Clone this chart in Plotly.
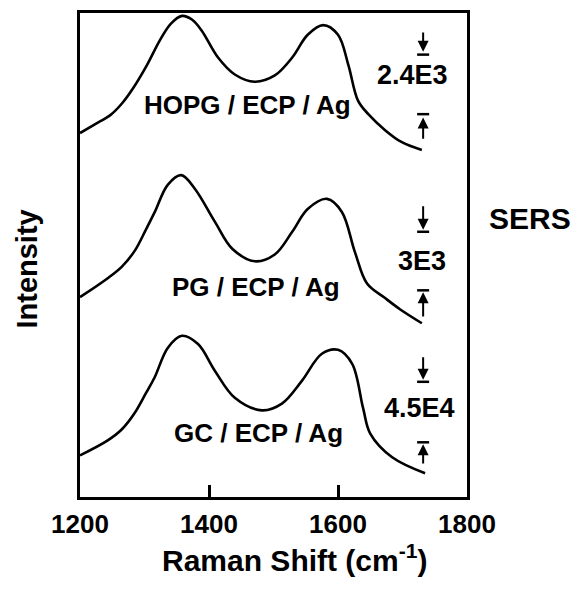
import plotly.graph_objects as go

# ---------------- data ----------------
hopg_shift = [1200, 1223, 1247, 1265, 1282, 1304, 1324, 1341, 1358, 1374, 1389,
              1414, 1440, 1471, 1502, 1529, 1553, 1577, 1600, 1616, 1631, 1647, 1673,
              1699, 1730]
hopg_int = [75.2, 77.0, 78.9, 81.3, 84.4, 89.3, 94.4, 97.8, 99.4, 98.6, 96.3,
            90.8, 87.3, 85.8, 87.1, 90.8, 95.5, 97.5, 95.5, 89.3, 81.9, 79.1, 75.8,
            73.3, 71.7]

pg_shift = [1200, 1243, 1265, 1285, 1302, 1316, 1336, 1357, 1378, 1409, 1436, 1471,
            1502, 1529, 1553, 1583, 1606, 1626, 1645, 1673, 1696, 1730]
pg_int = [41.3, 45.2, 47.6, 50.9, 55.2, 58.9, 64.5, 66.5, 63.7, 56.9, 51.3, 48.7,
          50.1, 54.8, 59.5, 61.6, 58.9, 50.7, 44.1, 41.1, 38.8, 35.9]

gc_shift = [1200, 1243, 1265, 1285, 1302, 1316, 1336, 1358, 1383, 1409, 1440, 1482,
            1513, 1544, 1575, 1600, 1622, 1639, 1650, 1684, 1735]
gc_int = [8.6, 11.7, 14.0, 17.4, 21.4, 24.8, 30.8, 33.3, 31.6, 26.1, 20.5, 17.9,
          19.3, 24.0, 29.6, 30.4, 27.5, 18.3, 13.1, 8.2, 4.9]

sample_labels = ["HOPG / ECP / Ag", "PG / ECP / Ag", "GC / ECP / Ag"]
scale_labels = ["2.4E3", "3E3", "4.5E4"]
x_ticks = [1200, 1400, 1600, 1800]

# ---------------- placement of annotations ----------------
label_pos = [(1459, 80.9), (1473, 43.3), (1476, 13.3)]
scale_pos = [(1716, 87.1), (1730, 48.7), (1727, 18.3)]
arrow_x = 1732
# (down tail, down tip, down bar, up bar, up tip, up tail)
arrow_y = [(96.3, 92.0, 91.4, 79.1, 78.4, 73.7),
           (60.4, 55.2, 54.8, 42.7, 42.3, 37.0),
           (29.2, 24.2, 23.8, 11.3, 10.9, 6.6)]

FONT = "Liberation Sans, Arial, Helvetica, sans-serif"


def fnt(size):
    return dict(size=size, color="black", family=FONT, weight="bold")


fig = go.Figure()
for xs, ys in [(hopg_shift, hopg_int), (pg_shift, pg_int), (gc_shift, gc_int)]:
    fig.add_trace(go.Scatter(x=xs, y=ys, mode="lines",
                             line=dict(color="black", width=2.6, shape="spline", smoothing=1.0),
                             hoverinfo="skip", showlegend=False))

annotations = []
shapes = []
for lab, (lx, ly) in zip(sample_labels, label_pos):
    annotations.append(dict(x=lx, y=ly, xref="x", yref="y", text=lab, showarrow=False,
                            xanchor="center", yanchor="middle", font=fnt(26)))
for lab, (lx, ly) in zip(scale_labels, scale_pos):
    annotations.append(dict(x=lx, y=ly, xref="x", yref="y", text=lab, showarrow=False,
                            xanchor="center", yanchor="middle", font=fnt(27)))
for (dt, dtip, dbar, ubar, utip, ut) in arrow_y:
    for tail, tip in [(dt, dtip), (ut, utip)]:
        annotations.append(dict(x=arrow_x, y=tip, ax=arrow_x, ay=tail, xref="x", yref="y",
                                axref="x", ayref="y", text="", showarrow=True,
                                arrowhead=2, arrowsize=1.1, arrowwidth=2, arrowcolor="black"))
    for b in (dbar, ubar):
        shapes.append(dict(type="line", xref="x", yref="y", xsizemode="pixel", xanchor=arrow_x,
                           x0=-6, x1=6, y0=b, y1=b, line=dict(color="black", width=2.5)))

annotations.append(dict(x=1.163, y=0.575, xref="paper", yref="paper", text="SERS",
                        showarrow=False, xanchor="center", yanchor="middle", font=fnt(30)))
annotations.append(dict(x=0.553, y=-0.125, xref="paper", yref="paper",
                        text="Raman Shift (cm<sup>-1</sup>)", showarrow=False,
                        xanchor="center", yanchor="middle", font=fnt(30)))
annotations.append(dict(x=-0.137, y=0.472, xref="paper", yref="paper", text="Intensity",
                        textangle=-90, showarrow=False, xanchor="center", yanchor="middle",
                        font=fnt(29)))

fig.update_layout(
    width=582, height=589,
    margin=dict(l=80, r=115, t=10, b=92),
    paper_bgcolor="white", plot_bgcolor="white",
    annotations=annotations, shapes=shapes,
    font=dict(family=FONT, size=25, color="black"),
    xaxis=dict(range=[1200, 1800], tickvals=x_ticks, ticktext=[str(t) for t in x_ticks],
               ticks="inside", ticklen=12, tickwidth=2.5, tickcolor="black",
               showline=True, linecolor="black", linewidth=2.5, mirror=True,
               showgrid=False, zeroline=False, ticklabelstandoff=2,
               tickfont=fnt(26)),
    yaxis=dict(range=[0, 100], showticklabels=False, ticks="",
               showline=True, linecolor="black", linewidth=2.5, mirror=True,
               showgrid=False, zeroline=False),
)

fig.write_html("out.html")
